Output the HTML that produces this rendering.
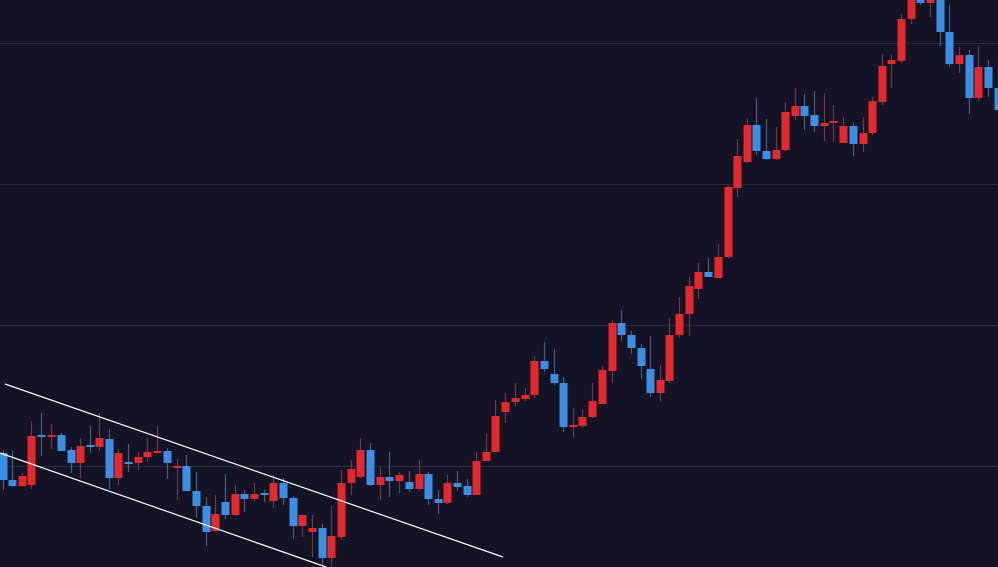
<!DOCTYPE html>
<html><head><meta charset="utf-8"><style>
html,body{margin:0;padding:0;background:#131325;overflow:hidden}
svg{display:block}
</style></head><body>
<svg id="c" width="998" height="567" viewBox="0 0 998 567" xmlns="http://www.w3.org/2000/svg">
<rect width="998" height="567" fill="#131325"/>
<g stroke="#2c2c3e" stroke-width="1">
<line x1="0" y1="43.5" x2="998" y2="43.5"/>
<line x1="0" y1="184.5" x2="998" y2="184.5"/>
<line x1="0" y1="325.5" x2="998" y2="325.5"/>
<line x1="0" y1="466.5" x2="998" y2="466.5"/>
</g>
<g id="k"></g>
<g stroke="#ffffff" stroke-width="1.2">
<line x1="5" y1="384" x2="503" y2="557"/>
<line x1="0" y1="453" x2="326" y2="567"/>
</g>
</svg>
<script>
var d=[
[3,'b',453,480,450,490],[12,'b',480,486,451,487],[22,'r',476,486,473,487],[31,'r',436,485,421,489],
[41,'b',435,437,413,456],[51,'r',435,437,424,449],[61,'b',435,451,433,451],[71,'b',450,463,447,473],
[80,'r',446,463,438,478],[90,'b',445,447,426,453],[99,'r',438,447,413,451],[109,'b',439,478,429,489],
[118,'r',453,478,449,485],[128,'b',462,464,444,472],[138,'r',457,463,452,470],[147,'r',452,457,438,462],
[157,'r',451,453,426,453],[167,'b',451,463,448,479],[177,'r',466,468,459,500],[186,'b',466,491,455,491],
[196,'b',491,506,472,518],[206,'b',506,532,497,546],[215,'r',514,531,495,532],[225,'b',502,515,474,519],
[235,'r',494,515,485,516],[244,'b',494,499,490,512],[254,'r',494,499,483,502],[264,'b',493,495,490,502],
[273,'r',483,501,475,508],[283,'b',483,498,478,505],[293,'b',498,526,496,539],[302,'r',515,526,515,537],
[312,'r',528,532,515,557],[322,'b',528,558,524,565],[331,'r',536,558,506,566],[341,'r',483,537,470,540],
[351,'r',469,483,460,495],[360,'r',450,477,438,478],[370,'b',450,485,443,486],[380,'r',477,485,467,500],
[389,'b',477,481,452,497],[399,'r',475,481,472,493],[409,'b',482,489,471,492],[419,'r',474,489,460,491],
[428,'b',474,499,472,505],[438,'b',499,503,490,514],[447,'r',483,503,475,504],[457,'b',483,487,471,491],
[467,'b',486,495,479,497],[476,'r',461,495,452,495],[486,'r',452,461,434,461],[495,'r',416,452,400,452],
[505,'r',402,412,393,423],[515,'r',398,402,383,406],[525,'r',395,399,388,401],[534,'r',361,395,356,398],
[544,'b',361,369,342,372],[554,'b',374,383,349,385],[563,'b',383,427,377,432],[573,'r',425,427,408,437],
[582,'r',417,426,410,428],[592,'r',401,417,383,418],[602,'r',370,404,366,404],[612,'r',323,371,320,383],
[621,'b',323,335,310,341],[631,'b',335,348,331,354],[641,'b',348,366,344,379],[650,'b',369,393,336,397],
[660,'r',380,393,365,402],[669,'r',335,381,318,383],[679,'r',314,335,297,338],[689,'r',286,314,277,336],
[698,'r',272,289,263,299],[708,'b',272,277,258,277],[718,'r',257,278,244,278],[728,'r',187,257,186,258],
[737,'r',156,188,139,197],[747,'r',125,162,118,163],[756,'b',125,151,98,155],[766,'b',151,159,119,160],
[776,'r',150,159,127,160],[785,'r',112,150,102,151],[795,'r',106,116,88,120],[804,'b',106,116,94,130],
[814,'b',115,126,91,132],[824,'r',123,126,93,141],[833,'r',121,123,105,142],[843,'r',126,143,117,143],
[853,'b',126,144,123,156],[863,'r',133,144,117,152],[872,'r',101,133,97,135],[882,'r',66,102,54,105],
[891,'r',60,64,54,88],[901,'r',19,61,14,63],[911,'r',0,19,0,24],[920,'b',0,3,0,5],
[930,'r',0,3,0,17],[940,'b',0,32,0,46],[949,'b',32,64,5,67],[959,'r',55,64,47,73],
[969,'b',55,98,50,114],[978,'r',67,98,46,101],[988,'b',67,88,60,97],[998,'b',88,110,62,113]];
var s='';
d.forEach(function(c){var x=c[0],col=c[1]=='r'?'#e3292b':'#3d8fe6',wc=c[1]=='r'?'#6e3a48':'#4a5f80';
s+='<line x1="'+(x+0.5)+'" y1="'+c[4]+'" x2="'+(x+0.5)+'" y2="'+c[5]+'" stroke="'+wc+'" stroke-width="1.2"/>';
var h=Math.max(c[3]-c[2],1.5);
s+='<rect x="'+(x-3.5)+'" y="'+c[2]+'" width="8" height="'+h+'" fill="'+col+'"/>';});
document.getElementById('k').innerHTML=s;
</script>
</body></html>
